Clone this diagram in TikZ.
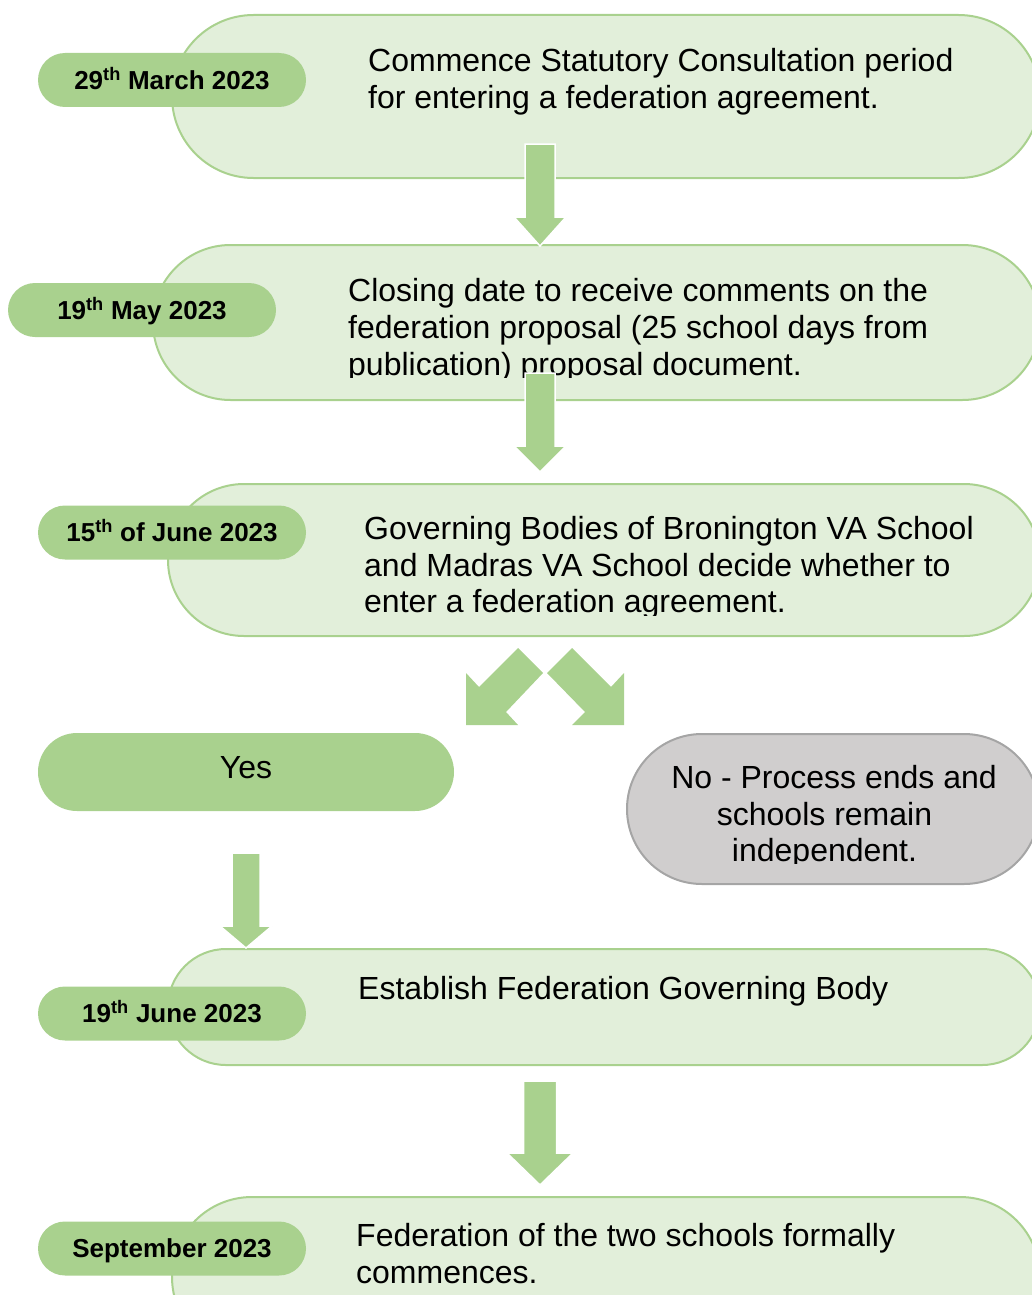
\documentclass[tikz,border=0pt]{standalone}
\usepackage{fontspec}
\setmainfont{Liberation Sans}
\usetikzlibrary{shapes.misc}
\definecolor{boxfill}{HTML}{E2EFDA}
\definecolor{boxline}{HTML}{A9D18E}
\definecolor{pillfill}{HTML}{A9D18E}
\definecolor{grayfill}{HTML}{D0CECE}
\definecolor{grayline}{HTML}{A5A5A5}
\newcommand\myblockdown[6]{%
  \filldraw[blockarrow] (#1-#5,#2) -- (#1+#5,#2) -- (#1+#5,#3) -- (#1+#6,#3)
    -- (#1,#4) -- (#1-#6,#3) -- (#1-#5,#3) -- cycle;}
\begin{document}
\begin{tikzpicture}[x=1pt,y=-1pt,
  stepbox/.style={rounded rectangle, draw=boxline, fill=boxfill, line width=2pt, inner sep=0pt},
  datepill/.style={rounded rectangle, fill=pillfill, inner sep=0pt, minimum width=268pt,
     minimum height=54pt, font=\fontsize{26}{30}\selectfont\bfseries, text height=18.6pt, text depth=0pt},
  maintext/.style={anchor=base west, inner sep=0pt, font=\fontsize{32}{36.8}\selectfont},
  ctrtext/.style={anchor=base, inner sep=0pt, font=\fontsize{32}{36.8}\selectfont},
  blockarrow/.style={fill=pillfill, draw=white, line width=1.5pt}
]
\useasboundingbox (0,0) rectangle (1032,1295);
\clip (0,0) rectangle (1032,1295);

% step 1
\node[stepbox, minimum width=868pt, minimum height=163pt] (b1) at (606,96.5) {};
\node[datepill] (d1) at (172,80) {29\textsuperscript{th} March 2023};
\node[maintext] (t1a) at (368,72) {Commence Statutory Consultation period};
\node[maintext] (t1b) at (368,109) {for entering a federation agreement.};

% step 2
\node[stepbox, minimum width=887pt, minimum height=155pt] (b2) at (596.5,322.5) {};
\node[datepill] (d2) at (142,310) {19\textsuperscript{th} May 2023};
\begin{scope}
\clip (0,0) rectangle (1032,377);
\node[maintext] (t2a) at (348,301) {Closing date to receive comments on the};
\node[maintext] (t2b) at (348,338) {federation proposal (25 school days from};
\node[maintext] (t2c) at (348,375) {publication) proposal document.};
\end{scope}

% step 3
\node[stepbox, minimum width=872pt, minimum height=152pt] (b3) at (604,560) {};
\node[datepill] (d3) at (172,532.5) {15\textsuperscript{th} of June 2023};
\begin{scope}
\clip (0,0) rectangle (1032,615);
\node[maintext] (t3a) at (364,539) {Governing Bodies of Bronington VA School};
\node[maintext] (t3b) at (364,576) {and Madras VA School decide whether to};
\node[maintext] (t3c) at (364,612) {enter a federation agreement.};
\end{scope}

% yes / no
\node[rounded rectangle, fill=pillfill, inner sep=0pt, minimum width=416pt, minimum height=78pt] (yes) at (246,772) {};
\node[ctrtext] (tyes) at (246,778) {Yes};
\node[rounded rectangle, fill=grayfill, draw=grayline, line width=2pt, inner sep=0pt,
      minimum width=412pt, minimum height=150pt] (no) at (833,809) {};
\begin{scope}
\clip (0,0) rectangle (1032,863);
\node[ctrtext] (tno1) at (834,788) {No - Process ends and};
\node[ctrtext] (tno2) at (824.5,825) {schools remain};
\node[ctrtext] (tno3) at (824.5,861) {independent.};
\end{scope}

% step 5
\node[stepbox, minimum width=872pt, minimum height=116pt] (b5) at (604,1007) {};
\node[datepill] (d5) at (172,1013.5) {19\textsuperscript{th} June 2023};
\node[maintext] (t5) at (358,999) {Establish Federation Governing Body};

% step 6
\node[stepbox, minimum width=868pt, minimum height=160pt] (b6) at (606,1277) {};
\node[datepill] (d6) at (172,1248.5) {September 2023};
\node[maintext] (t6a) at (356,1246) {Federation of the two schools formally};
\node[maintext] (t6b) at (356,1283) {commences.};

% arrows
\myblockdown{540}{144}{217}{246}{15}{26}
\myblockdown{540}{373}{446}{472}{15}{26}
\myblockdown{246}{853}{926}{948}{14}{26}
\myblockdown{540}{1081}{1153}{1185}{16.5}{33}

\fill[pillfill] (466,673) -- (466,725) -- (518,725) -- (506,712) -- (543,673) -- (518,648) -- (479,687) -- cycle;
\fill[pillfill] (624,673) -- (624,725) -- (572,725) -- (585,712) -- (547,673) -- (572,648) -- (611,687) -- cycle;
\end{tikzpicture}
\end{document}
